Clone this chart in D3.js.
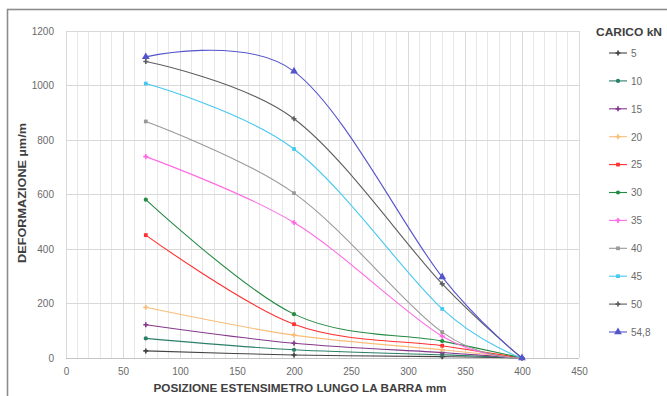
<!DOCTYPE html>
<html>
<head>
<meta charset="utf-8">
<script src="https://cdn.jsdelivr.net/npm/d3@7"></script>
<style>
  html, body { margin: 0; padding: 0; background: #fff; }
  svg { display: block; }
  text { font-family: "Liberation Sans", Arial, sans-serif; }
</style>
</head>
<body>
<svg id="chart" width="667" height="396"></svg>
<script>
// Strain gauge positions along the bar (mm)
const positions = [70, 200, 330, 400];

// Load steps (kN) and their series labels
const loads = ["5", "10", "15", "20", "25", "30", "35", "40", "45", "50", "54,8"];

// Measured strain (µm/m) at each gauge position, one array per load step
const s5   = [26, 11, 5, 0];
const s10  = [72, 30, 12, 0];
const s15  = [122, 54, 20, 0];
const s20  = [186, 84, 30, 0];
const s25  = [451, 124, 45, 0];
const s30  = [581, 161, 62, 0];
const s35  = [739, 497, 80, 0];
const s40  = [868, 605, 95, 0];
const s45  = [1007, 767, 180, 0];
const s50  = [1088, 878, 272, 0];
const s548 = [1105, 1052, 297, 0];

const seriesValues = [s5, s10, s15, s20, s25, s30, s35, s40, s45, s50, s548];

const xTicks = [0, 50, 100, 150, 200, 250, 300, 350, 400, 450];
const yTicks = [0, 200, 400, 600, 800, 1000, 1200];

const colors = ["#444444", "#2a7f68", "#84388a", "#f9bd7a", "#ff3030", "#248a44",
                "#ff6ae4", "#999999", "#45c8f0", "#5e5e5e", "#5454cc"];
const symbols = [d3.symbolCross, d3.symbolCircle, d3.symbolCross, d3.symbolCross, d3.symbolSquare,
                 d3.symbolCircle, d3.symbolCross, d3.symbolSquare, d3.symbolSquare, d3.symbolCross,
                 d3.symbolTriangle];

const svg = d3.select("#chart");

// outer frame
svg.append("rect")
  .attr("x", 7.5).attr("y", 9.5).attr("width", 720).attr("height", 420)
  .attr("fill", "#fff").attr("stroke", "#8c8c8c").attr("stroke-width", 1.6);

const plot = { left: 66, right: 579, top: 31, bottom: 358 };

const x = d3.scaleLinear().domain([0, 450]).range([plot.left, plot.right]);
const y = d3.scaleLinear().domain([0, 1200]).range([plot.bottom, plot.top]);

const g = svg.append("g");

// minor vertical gridlines every 10 mm
g.append("g").selectAll("line")
  .data(d3.range(0, 451, 10))
  .join("line")
  .attr("x1", d => x(d)).attr("x2", d => x(d))
  .attr("y1", plot.top).attr("y2", plot.bottom)
  .attr("stroke", d => d % 50 === 0 ? "#dadada" : "#e8e8e8")
  .attr("stroke-width", 1)
  .attr("shape-rendering", "crispEdges");

// horizontal gridlines at y ticks
g.append("g").selectAll("line")
  .data(yTicks)
  .join("line")
  .attr("x1", plot.left).attr("x2", plot.right)
  .attr("y1", d => y(d)).attr("y2", d => y(d))
  .attr("stroke", d => d === 0 ? "#c4c4c4" : "#d8d8d8")
  .attr("stroke-width", 1)
  .attr("shape-rendering", "crispEdges");

// axes (labels only, lines come from the grid)
const xAxis = d3.axisBottom(x).tickValues(xTicks).tickSize(0).tickPadding(10);
const yAxis = d3.axisLeft(y).tickValues(yTicks).tickFormat(d3.format("d")).tickSize(0).tickPadding(12);

const gx = svg.append("g").attr("transform", `translate(0,${plot.bottom})`).call(xAxis);
const gy = svg.append("g").attr("transform", `translate(${plot.left},0)`).call(yAxis);
[gx, gy].forEach(a => {
  a.select(".domain").remove();
  a.selectAll("text").attr("fill", "#6a6a6a").attr("font-size", 10);
});

// axis titles
svg.append("text")
  .attr("x", 300).attr("y", 392)
  .attr("text-anchor", "middle")
  .attr("font-size", 10.5).attr("font-weight", "bold").attr("fill", "#404040")
  .attr("textLength", 293).attr("lengthAdjust", "spacingAndGlyphs")
  .text("POSIZIONE ESTENSIMETRO LUNGO LA BARRA mm");

svg.append("text")
  .attr("transform", "translate(26,193) rotate(-90)")
  .attr("text-anchor", "middle")
  .attr("font-size", 10.5).attr("font-weight", "bold").attr("fill", "#404040")
  .attr("textLength", 140).attr("lengthAdjust", "spacingAndGlyphs")
  .text("DEFORMAZIONE µm/m");

// smoothed series lines
const line = d3.line()
  .x((d, i) => x(positions[i]))
  .y(d => y(d))
  .curve(d3.curveCardinal.tension(0));

const series = svg.append("g").selectAll("g")
  .data(seriesValues)
  .join("g");

series.append("path")
  .attr("d", d => line(d))
  .attr("fill", "none")
  .attr("stroke", (d, i) => colors[i])
  .attr("stroke-width", 1.1);

series.each(function(vals, si) {
  d3.select(this).selectAll("path.mk")
    .data(vals)
    .join("path")
    .attr("class", "mk")
    .attr("transform", (d, i) => `translate(${x(positions[i])},${y(d)})`)
    .attr("d", d3.symbol().type(symbols[si]).size(si === 10 ? 26 : 14))
    .attr("fill", colors[si]);
});

// legend
const legend = svg.append("g");
legend.append("text")
  .attr("x", 596).attr("y", 36)
  .attr("font-size", 10).attr("font-weight", "bold").attr("fill", "#404040")
  .attr("textLength", 66).attr("lengthAdjust", "spacingAndGlyphs")
  .text("CARICO  kN");

const items = legend.selectAll("g.item")
  .data(loads)
  .join("g")
  .attr("class", "item")
  .attr("transform", (d, i) => `translate(0,${53 + i * 27.9})`);

items.append("line")
  .attr("x1", 609).attr("x2", 627)
  .attr("stroke", (d, i) => colors[i]).attr("stroke-width", 1.1);
items.append("path")
  .attr("transform", "translate(618,0)")
  .attr("d", (d, i) => d3.symbol().type(symbols[i]).size(i === 10 ? 26 : 14)())
  .attr("fill", (d, i) => colors[i]);
items.append("text")
  .attr("x", 631).attr("y", 3.8)
  .attr("font-size", 10).attr("fill", "#6a6a6a")
  .text(d => d);
</script>
</body>
</html>
